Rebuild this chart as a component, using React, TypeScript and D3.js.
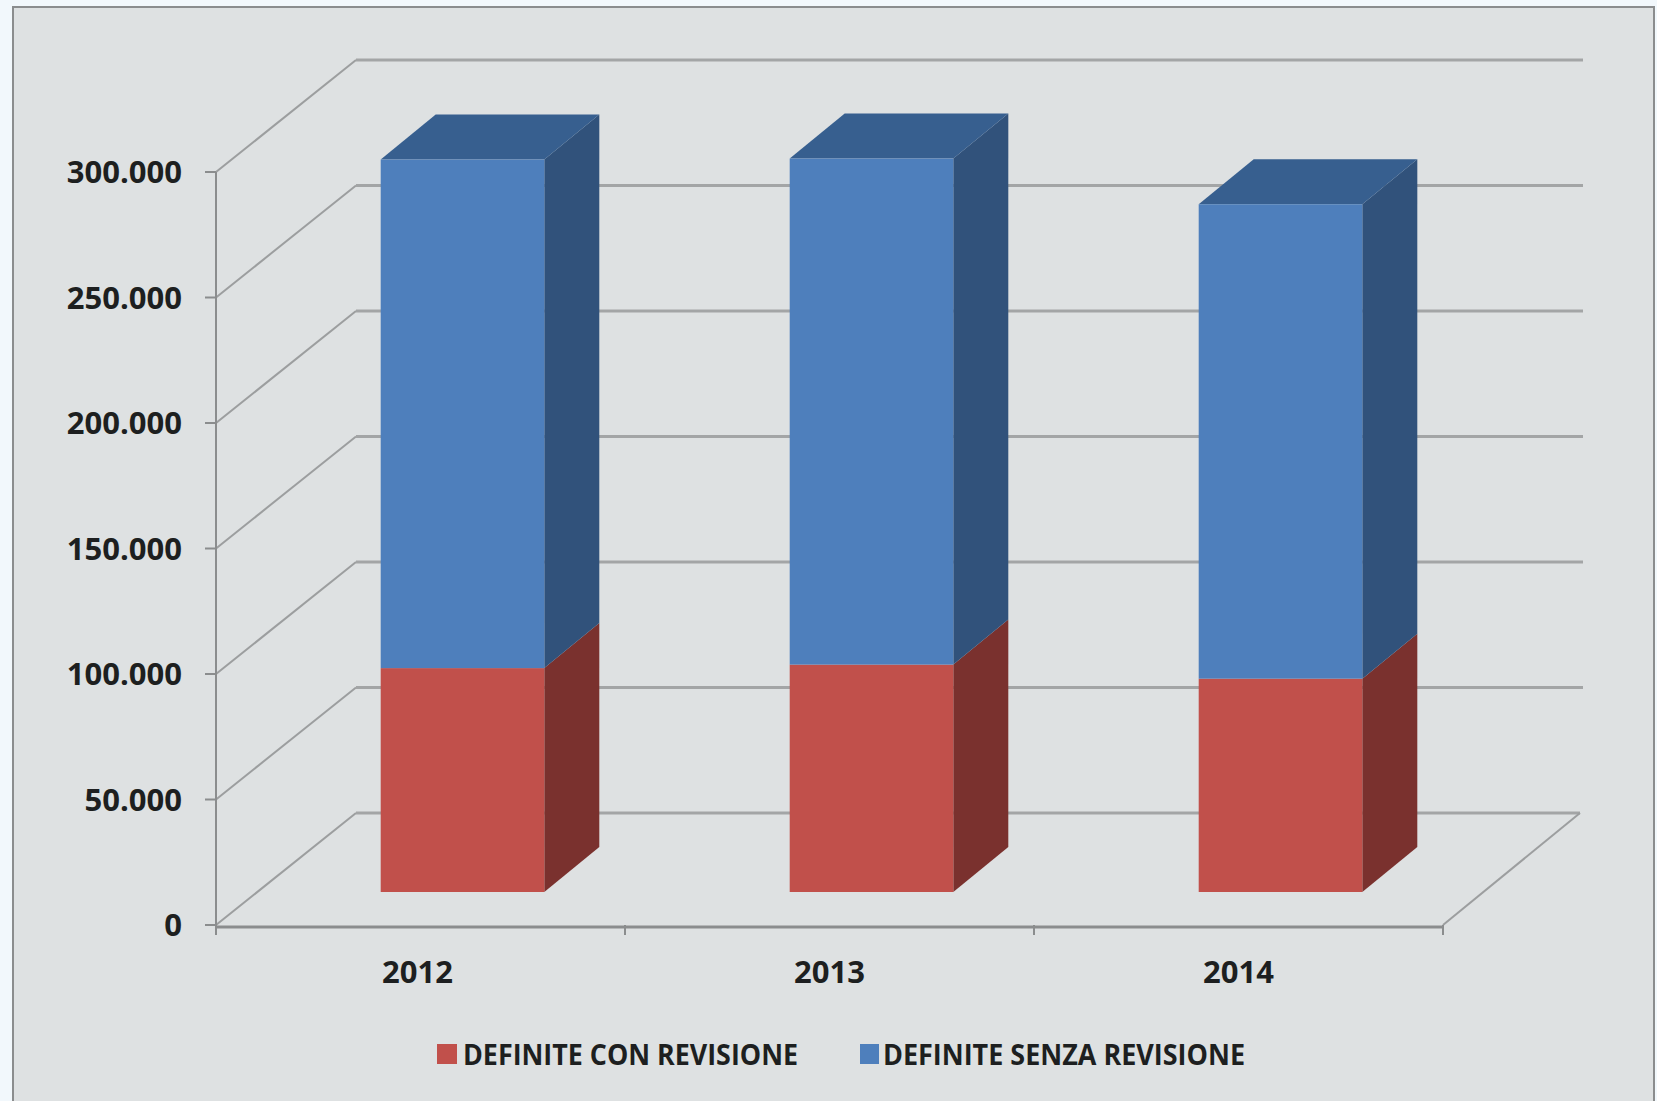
import React from "react";
import * as d3 from "d3";

const years = ["2012", "2013", "2014"];
const conRevisione = [89200, 90600, 85000];
const senzaRevisione = [202600, 201600, 189000];
const yTicks = [0, 50000, 100000, 150000, 200000, 250000, 300000];
const legendLabels = ["DEFINITE CON REVISIONE", "DEFINITE SENZA REVISIONE"];

const W = 1657;
const H = 1101;
const FONT = "'Open Sans', sans-serif";
const INK = "#1d1f20";

// Oblique projection of the chart's depth axis
const WALL = { dx: 140, dy: -112 };
const BAR_SHIFT = { dx: 42, dy: -33 };
const BAR_DEPTH = { dx: 55, dy: -45 };

const x = d3.scaleBand<string>().domain(years).range([216, 1443]).paddingInner(0.6).paddingOuter(0.3);
const y = d3.scaleLinear().domain([0, 300000]).range([925, 172]);
const thousands = d3.formatLocale({ decimal: ",", thousands: ".", grouping: [3], currency: ["", ""] }).format(",d");
const path = d3.line<[number, number]>();

type Face = { front: string; top: string; side: string };
const RED: Face = { front: "#c1504b", top: "#8e3a37", side: "#7a312e" };
const BLUE: Face = { front: "#4e7fbc", top: "#375f8f", side: "#31527b" };

function Segment({ year, from, to, face, lid }: { year: string; from: number; to: number; face: Face; lid: boolean }) {
  const x0 = (x(year) as number) + BAR_SHIFT.dx;
  const x1 = x0 + x.bandwidth();
  const y0 = y(from) + BAR_SHIFT.dy;
  const y1 = y(to) + BAR_SHIFT.dy;
  const { dx, dy } = BAR_DEPTH;
  return (
    <g>
      <path
        d={path([[x1, y0], [x1 + dx, y0 + dy], [x1 + dx, y1 + dy], [x1, y1]]) + "Z"}
        fill={face.side}
      />
      {lid && (
        <path
          d={path([[x0, y1], [x0 + dx, y1 + dy], [x1 + dx, y1 + dy], [x1, y1]]) + "Z"}
          fill={face.top}
        />
      )}
      <rect x={x0} y={y1} width={x.bandwidth()} height={y0 - y1} fill={face.front} />
    </g>
  );
}

export default function App() {
  const [left, right] = x.range();
  const backLeft = left + WALL.dx;
  const step = x.step();
  const boundaries = d3.range(years.length + 1).map((i) => left + i * step);

  return (
    <svg width={W} height={H} viewBox={`0 0 ${W} ${H}`} style={{ position: "absolute", left: 0, top: 0 }}>
      <rect width={W} height={H} fill="#f2f8fc" />
      <rect x={13} y={7} width={W - 16} height={H} fill="#dee1e2" stroke="#8b8d8e" strokeWidth={2} />

      {/* Back wall and left wall gridlines */}
      {yTicks.map((t) => {
        const yy = y(t);
        const endX = t === 0 ? right + WALL.dx - 3 : 1583;
        return (
          <g key={t}>
            <line x1={left} y1={yy} x2={backLeft} y2={yy + WALL.dy} stroke="#9c9e9f" strokeWidth={2} />
            <line x1={backLeft} y1={yy + WALL.dy} x2={endX} y2={yy + WALL.dy} stroke="#a3a5a6" strokeWidth={3} />
            <line x1={left - 11} y1={yy} x2={left} y2={yy} stroke="#8b8d8e" strokeWidth={2} />
            <text x={182} y={yy + 11} textAnchor="end" fontFamily={FONT} fontWeight={700} fontSize={31} fill={INK}>
              {thousands(t)}
            </text>
          </g>
        );
      })}

      {/* Floor edges and axes */}
      <line x1={right} y1={y(0)} x2={right + WALL.dx - 3} y2={y(0) + WALL.dy} stroke="#9c9e9f" strokeWidth={2} />
      <line x1={left} y1={y(300000)} x2={left} y2={y(0) + 8} stroke="#8b8d8e" strokeWidth={2} />
      <line x1={left} y1={y(0) + 2} x2={right} y2={y(0) + 2} stroke="#8b8d8e" strokeWidth={3} />
      {boundaries.map((b) => (
        <line key={b} x1={b} y1={y(0)} x2={b} y2={y(0) + 10} stroke="#8b8d8e" strokeWidth={2} />
      ))}

      {/* Stacked bars */}
      {years.map((year, i) => (
        <g key={year}>
          <Segment year={year} from={0} to={conRevisione[i]} face={RED} lid={false} />
          <Segment
            year={year}
            from={conRevisione[i]}
            to={conRevisione[i] + senzaRevisione[i]}
            face={BLUE}
            lid={true}
          />
          <text
            x={(x(year) as number) + x.bandwidth() / 2 - (i === 0 ? 3 : 0)}
            y={983}
            textAnchor="middle"
            fontFamily={FONT}
            fontWeight={700}
            fontSize={31}
            fill={INK}
          >
            {year}
          </text>
        </g>
      ))}

      {/* Legend */}
      <rect x={437} y={1044} width={20} height={20} fill={RED.front} />
      <text x={463} y={1065} fontFamily={FONT} fontWeight={700} fontSize={28} textLength={335} lengthAdjust="spacingAndGlyphs" fill={INK}>
        {legendLabels[0]}
      </text>
      <rect x={860} y={1044} width={19} height={20} fill={BLUE.front} />
      <text x={883} y={1065} fontFamily={FONT} fontWeight={700} fontSize={28} textLength={362} lengthAdjust="spacingAndGlyphs" fill={INK}>
        {legendLabels[1]}
      </text>
    </svg>
  );
}
